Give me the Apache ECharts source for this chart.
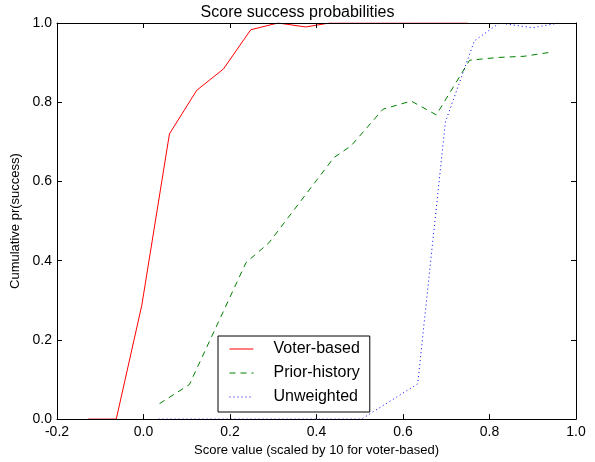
<!DOCTYPE html>
<html>
<head>
<meta charset="utf-8">
<script src="https://cdn.jsdelivr.net/npm/echarts@6/dist/echarts.min.js"></script>
<style>html,body{margin:0;padding:0;background:#fff}#c{width:595px;height:462px}</style>
</head>
<body>
<div id="c"></div>
<script>
// Data
var xTicks = [-0.2, 0.0, 0.2, 0.4, 0.6, 0.8, 1.0];
var yTicks = [0.0, 0.2, 0.4, 0.6, 0.8, 1.0];

var voterX = [-0.128, -0.063, -0.004, 0.06, 0.123, 0.185, 0.248, 0.311, 0.375, 0.43, 0.5, 0.5625, 0.625, 0.6875, 0.75];
var voterY = [0, 0, 0.287, 0.72, 0.83, 0.884, 0.983, 1.0, 0.99, 1.0, 1.0, 1.0, 1.0, 1.0, 1.0];

var priorX = [0.037, 0.106, 0.237, 0.29, 0.44, 0.48, 0.554, 0.619, 0.677, 0.754, 0.82, 0.88, 0.946];
var priorY = [0.039, 0.087, 0.395, 0.445, 0.66, 0.69, 0.7825, 0.803, 0.768, 0.906, 0.913, 0.916, 0.927];

var unwX = [0.035, 0.504, 0.634, 0.698, 0.765, 0.823, 0.9, 0.96];
var unwY = [0, 0, 0.089, 0.75, 0.955, 1.0, 0.988, 1.0];

function zip(a, b) { return a.map(function (v, i) { return [v, b[i]]; }); }

var FONT = 'Liberation Sans';
var chart = echarts.init(document.getElementById('c'), null, { renderer: 'canvas' });
var fmt = function (v) { return Number(v).toFixed(1); };
function axisBase() {
  return {
    axisLine: { show: true, onZero: false, lineStyle: { color: '#000', width: 1 } },
    axisTick: { show: true, inside: true, length: 5, lineStyle: { color: '#000', width: 1 } },
    splitLine: { show: false }
  };
}
chart.setOption({
  animation: false,
  backgroundColor: '#fff',
  title: {
    text: 'Score success probabilities',
    left: 'center', top: 5, padding: 0,
    textStyle: { fontFamily: FONT, fontSize: 16, fontWeight: 'normal', color: '#000' }
  },
  grid: { left: 57, right: 19, top: 23, bottom: 39, containLabel: false },
  legend: {
    left: 218, top: 336,
    orient: 'vertical',
    backgroundColor: '#fff',
    borderColor: '#000', borderWidth: 1, borderRadius: 0,
    padding: [5, 10, 7, 11],
    itemWidth: 24, itemHeight: 14, itemGap: 8,
    itemStyle: { opacity: 0 },
    lineStyle: { width: 1 },
    textStyle: { fontFamily: FONT, fontSize: 16, color: '#000', padding: [0, 0, 0, 15] },
    data: ['Voter-based', 'Prior-history', 'Unweighted']
  },
  xAxis: [
    Object.assign(axisBase(), {
      type: 'value', min: -0.2, max: 1.0, interval: 0.2, position: 'bottom', z: 5,
      name: 'Score value (scaled by 10 for voter-based)', nameLocation: 'middle', nameGap: 23,
      nameTextStyle: { fontFamily: FONT, fontSize: 13, color: '#000' },
      axisLabel: { fontFamily: FONT, fontSize: 14, color: '#000', margin: 6, formatter: fmt }
    }),
    Object.assign(axisBase(), {
      type: 'value', min: -0.2, max: 1.0, interval: 0.2, position: 'top', z: 5,
      axisLabel: { show: false }
    })
  ],
  yAxis: [
    Object.assign(axisBase(), {
      type: 'value', min: 0, max: 1.0, interval: 0.2, position: 'left', z: 5,
      name: 'Cumulative pr(success)', nameLocation: 'middle', nameGap: 27,
      nameTextStyle: { fontFamily: FONT, fontSize: 13, color: '#000' },
      axisLabel: { fontFamily: FONT, fontSize: 14, color: '#000', margin: 5, formatter: fmt }
    }),
    Object.assign(axisBase(), {
      type: 'value', min: 0, max: 1.0, interval: 0.2, position: 'right', z: 5,
      axisLabel: { show: false }
    })
  ],
  series: [
    {
      name: 'Voter-based', type: 'line', xAxisIndex: 0, yAxisIndex: 0, z: 1,
      data: zip(voterX, voterY), showSymbol: false, symbol: 'none',
      lineStyle: { color: '#ff0000', width: 1, type: 'solid' },
      itemStyle: { color: '#ff0000' }
    },
    {
      name: 'Prior-history', type: 'line', xAxisIndex: 0, yAxisIndex: 0, z: 1,
      data: zip(priorX, priorY), showSymbol: false, symbol: 'none',
      lineStyle: { color: '#008000', width: 1, type: [6, 5] },
      itemStyle: { color: '#008000' }
    },
    {
      name: 'Unweighted', type: 'line', xAxisIndex: 0, yAxisIndex: 0, z: 1,
      data: zip(unwX, unwY), showSymbol: false, symbol: 'none',
      lineStyle: { color: '#0000ff', width: 1, type: [1, 3] },
      itemStyle: { color: '#0000ff' }
    }
  ]
});
</script>
</body>
</html>
